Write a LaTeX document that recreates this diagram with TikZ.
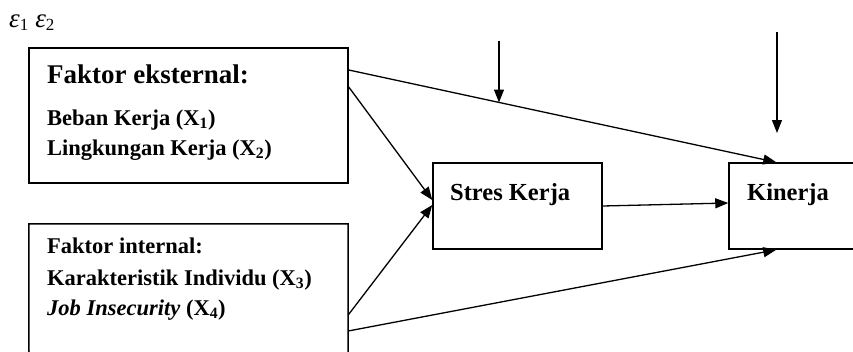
\documentclass[tikz,border=0pt]{standalone}
\usepackage{fontspec}
\setmainfont{Liberation Serif}
\usetikzlibrary{arrows.meta}

\begin{document}
\begin{tikzpicture}[x=1pt,y=-1pt,
  box/.style={draw, rectangle, line width=1.5pt, inner sep=0pt},
  edge/.style={line width=1.5pt},
  conn/.style={line width=1.3pt, -{Triangle[length=13pt,width=10pt]}},
  lbl/.style={anchor=base west, inner sep=0pt, font=\bfseries\fontsize{22.5}{26}\selectfont},
  headlbl/.style={anchor=base west, inner sep=0pt, font=\bfseries\fontsize{27}{32}\selectfont},
  midlbl/.style={anchor=base west, inner sep=0pt, font=\bfseries\fontsize{24.5}{28}\selectfont},
  sub/.style={}]

\useasboundingbox (0,0) rectangle (853,351);

% error terms
\node[anchor=base west, inner sep=0pt, font=\fontsize{27}{32}\selectfont] (eps) at (9,27)
  {\textit{ε}\raisebox{-3pt}{\fontsize{17}{20}\selectfont 1}\hspace{7pt}\textit{ε}\raisebox{-3pt}{\fontsize{17}{20}\selectfont 2}};

% boxes
\node[box, minimum width=319pt, minimum height=135pt] (ext) at (188.5,115.5) {};
\node[box, minimum width=151pt, minimum height=86pt] (kin) at (804.5,206) {};
\node[box, minimum width=169pt, minimum height=86pt] (stres) at (517.5,206) {};
% internal-factor box runs to the lower edge: top and two sides only
\node[minimum width=319pt, minimum height=130pt, inner sep=0pt] (int) at (188.5,289) {};
\coordinate (intbl) at (29,352);
\coordinate (intbr) at (348,352);
\draw[edge] (intbl) -- (int.north west) -- (int.north east) -- (intbr);

% box texts
\node[headlbl] (t1) at (47,83) {Faktor eksternal:};
\node[lbl] (t2) at (47,125) {Beban Kerja (X\textsubscript{1})};
\node[lbl] (t3) at (47,155) {Lingkungan Kerja (X\textsubscript{2})};
\node[lbl] (t4) at (47,253) {Faktor internal:};
\node[lbl] (t5) at (47,285) {Karakteristik Individu (X\textsubscript{3})};
\node[lbl] (t6) at (47,315) {\textit{Job Insecurity} (X\textsubscript{4})};
\node[midlbl] (t7) at (450,200) {Stres Kerja};
\node[midlbl] (t8) at (747,200) {Kinerja};

% paths
\draw[conn] ([yshift=45.5pt]ext.east) -- ([xshift=48pt]kin.north west);
\draw[conn] ([yshift=28.5pt]ext.east) -- ([yshift=6pt]stres.west);
\draw[conn] ([yshift=-26pt]int.east) -- ([yshift=1pt]stres.west);
\draw[conn] ([yshift=-42pt]int.east) -- ([xshift=48pt]kin.south west);
\draw[conn] (stres.east) -- ([yshift=3pt]kin.west);

% residual arrows
\coordinate (e1top) at (499,41);
\coordinate (e1tip) at (499,102.5);
\coordinate (e2top) at (777,32);
\coordinate (e2tip) at (777,133);
\draw[conn] (e1top) -- (e1tip);
\draw[conn] (e2top) -- (e2tip);
\end{tikzpicture}
\end{document}
